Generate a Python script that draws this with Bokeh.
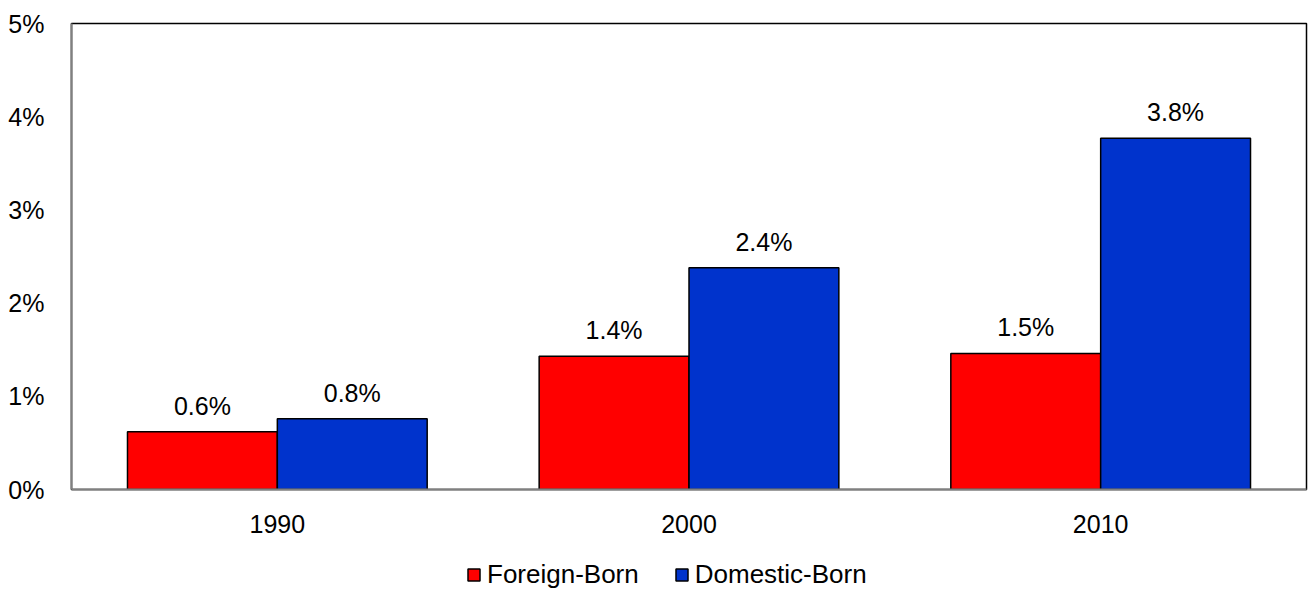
from bokeh.plotting import figure
from bokeh.layouts import column
from bokeh.models import (ColumnDataSource, Legend, LegendItem, FactorRange, Range1d,
                          FixedTicker, LabelSet, CustomJSTickFormatter)
from bokeh.core.properties import value
from bokeh.transform import dodge
from bokeh.embed import file_html
from bokeh.resources import INLINE

years = ["1990", "2000", "2010"]
series = ["Foreign-Born", "Domestic-Born"]
foreign = [0.62, 1.43, 1.46]
domestic = [0.76, 2.38, 3.77]
foreign_lbl = ["0.6%", "1.4%", "1.5%"]
domestic_lbl = ["0.8%", "2.4%", "3.8%"]
y_ticks = [0, 1, 2, 3, 4, 5]
colors = ["#FF0000", "#0033CC"]

src = ColumnDataSource(dict(years=years, foreign=foreign, domestic=domestic,
                            flbl=foreign_lbl, dlbl=domestic_lbl))

FONT = "Liberation Sans"
FS = "25px"
p = figure(width=1309, height=541, x_range=FactorRange(*years), y_range=Range1d(0, 5),
           output_backend="svg", toolbar_location=None,
           min_border_left=71, min_border_top=23, min_border_right=3, min_border_bottom=52)

bw = 0.364
p.vbar(x=dodge("years", -bw / 2, range=p.x_range), top="foreign", width=bw, source=src,
       fill_color=colors[0], line_color="black", line_width=1.5)
p.vbar(x=dodge("years", bw / 2, range=p.x_range), top="domestic", width=bw, source=src,
       fill_color=colors[1], line_color="black", line_width=1.5)

for col, lbl, off in [("foreign", "flbl", -bw / 2), ("domestic", "dlbl", bw / 2)]:
    ls = LabelSet(x=dodge("years", off, range=p.x_range), y=col, text=lbl, source=src,
                  text_align="center", text_baseline="alphabetic", y_offset=17,
                  text_font=value(FONT), text_font_size=value(FS), text_color="black")
    p.add_layout(ls)

p.xgrid.visible = False
p.ygrid.visible = False
p.outline_line_color = "black"
p.outline_line_width = 1.5

p.yaxis.ticker = FixedTicker(ticks=y_ticks)
p.yaxis.formatter = CustomJSTickFormatter(code="return tick + '%';")
for ax in (p.xaxis, p.yaxis):
    ax.major_tick_line_color = None
    ax.minor_tick_line_color = None
    ax.axis_line_color = "#808080"
    ax.axis_line_width = 2
    ax.major_label_text_font = FONT
    ax.major_label_text_font_size = FS
    ax.major_label_text_color = "black"
p.yaxis.major_label_standoff = 21
p.xaxis.major_label_standoff = 19

# legend strip below the chart (its renderers are hidden; only legend entries show)
lg = figure(width=1309, height=50, x_range=FactorRange(*years), y_range=Range1d(0, 5),
            output_backend="svg", toolbar_location=None,
            min_border_left=0, min_border_right=0, min_border_top=0, min_border_bottom=0)
lg.axis.visible = False
lg.xgrid.visible = False
lg.ygrid.visible = False
lg.outline_line_color = None
items = []
for name, c, col in zip(series, colors, ["foreign", "domestic"]):
    r = lg.vbar(x="years", top=col, width=0.3, source=src, fill_color=c,
                line_color="black", line_width=1.5)
    r.visible = False
    items.append(LegendItem(label=name, renderers=[r]))
legend = Legend(items=items, orientation="horizontal", location=(395, 1),
                label_text_font=FONT, label_text_font_size="26px", label_text_color="black",
                glyph_width=15, glyph_height=15, label_standoff=6, spacing=35,
                inactive_fill_alpha=0,
                border_line_color=None, background_fill_alpha=0, margin=0, padding=0)
lg.add_layout(legend, "center")

layout = column(p, lg, spacing=0)
open("out.html", "w").write(file_html(layout, INLINE))
